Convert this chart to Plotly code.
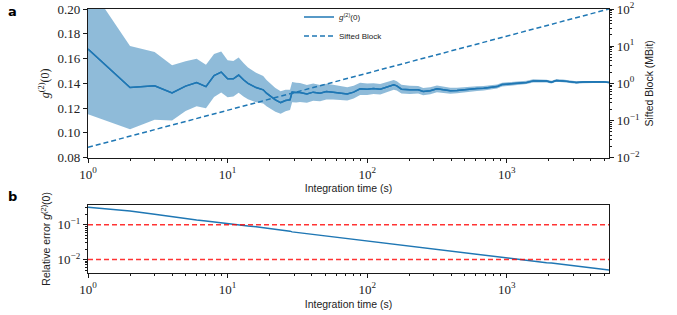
import plotly.graph_objects as go

# ---- data ----
times = [1, 2, 3, 4, 5, 6, 7, 8, 9, 10, 11, 12, 13, 14, 16, 18, 19, 20, 22, 24, 26, 28, 29, 31, 33,
         37, 41, 46, 51, 57, 64, 72, 80, 89, 100, 111, 124, 139, 155, 163, 176, 202, 232, 252, 283,
         316, 353, 394, 440, 490, 548, 612, 683, 763, 852, 925, 1055, 1245, 1387, 1547, 1727, 1927,
         2088, 2264, 2526, 2820, 3148, 3510, 3920, 4375, 4880, 5400]
g2 = [0.1677, 0.1366, 0.1380, 0.1323, 0.1378, 0.1407, 0.1374, 0.1463, 0.1491, 0.1437, 0.1437, 0.1467,
      0.1429, 0.1400, 0.1366, 0.1348, 0.1321, 0.1300, 0.1267, 0.1245, 0.1261, 0.1267, 0.1329, 0.1326,
      0.1326, 0.1315, 0.1329, 0.1321, 0.1334, 0.1329, 0.1321, 0.1315, 0.1329, 0.1356, 0.1353, 0.1358,
      0.1353, 0.1370, 0.1388, 0.1380, 0.1353, 0.1348, 0.1348, 0.1334, 0.1340, 0.1356, 0.1348, 0.1340,
      0.1342, 0.1348, 0.1356, 0.1358, 0.1361, 0.1366, 0.1374, 0.1390, 0.1394, 0.1402, 0.1407, 0.1420,
      0.1420, 0.1418, 0.1410, 0.1423, 0.1420, 0.1415, 0.1407, 0.1410, 0.1412, 0.1412, 0.1412, 0.1407]
rel_err = [0.314, 0.246, 0.198, 0.169, 0.146, 0.136, 0.128, 0.119, 0.111, 0.104, 0.100, 0.097,
           0.094, 0.091, 0.087, 0.082, 0.080, 0.079, 0.076, 0.073, 0.069, 0.065, 0.062, 0.060,
           0.058, 0.055, 0.052, 0.050, 0.0475, 0.045, 0.043, 0.041, 0.039, 0.0365, 0.034, 0.032,
           0.031, 0.0295, 0.028, 0.0273, 0.0262, 0.0245, 0.0228, 0.0219, 0.0207, 0.0198, 0.0187,
           0.0177, 0.0167, 0.0158, 0.0150, 0.0142, 0.0135, 0.0127, 0.0120, 0.0114, 0.0107, 0.0098,
           0.0093, 0.0089, 0.0085, 0.0081, 0.0079, 0.0076, 0.0072, 0.0069, 0.0066, 0.0063, 0.0060,
           0.0056, 0.0053, 0.0050]
sift_times = [1, 5400]
sift_mbit = [0.019, 100]
thresholds = [0.1, 0.01]

g2_low = [g * (1 - r) for g, r in zip(g2, rel_err)]
g2_high = [g * (1 + r) for g, r in zip(g2, rel_err)]

BLUE = "#1f77b4"
SERIF = "Liberation Serif"
SANS = "Liberation Sans"
AX = "#1a1a1a"
TXT = "#222"


def sup(e):
    return "10<sup>%s</sup>" % (str(e).replace("-", "\u2212"))


def minor_vals(lo_exp, hi_exp):
    vals = []
    for e in range(lo_exp, hi_exp + 1):
        for m in range(2, 10):
            vals.append(m * 10.0 ** e)
    return vals


fig = go.Figure()
fig.add_trace(go.Scatter(x=times, y=g2, mode="lines", line=dict(color=BLUE, width=1.5),
                         name="<i>g</i><sup>(2)</sup>(0)", xaxis="x", yaxis="y", legendrank=1))
fig.add_trace(go.Scatter(x=sift_times, y=sift_mbit, mode="lines",
                         line=dict(color=BLUE, width=1.5, dash="5px,3px"),
                         name="Sifted Block", xaxis="x", yaxis="y3", legendrank=2))
fig.add_trace(go.Scatter(x=times, y=g2_low, mode="lines", line=dict(width=0), showlegend=False,
                         hoverinfo="skip", xaxis="x", yaxis="y"))
fig.add_trace(go.Scatter(x=times, y=g2_high, mode="lines", line=dict(width=0), fill="tonexty",
                         fillcolor="rgba(31,119,180,0.5)", showlegend=False, hoverinfo="skip",
                         xaxis="x", yaxis="y"))
fig.add_trace(go.Scatter(x=times, y=g2, mode="lines", line=dict(color=BLUE, width=1.5),
                         showlegend=False, xaxis="x", yaxis="y"))
fig.add_trace(go.Scatter(x=times, y=rel_err, mode="lines", line=dict(color=BLUE, width=1.5),
                         showlegend=False, xaxis="x2", yaxis="y2"))
for th in thresholds:
    fig.add_trace(go.Scatter(x=[times[0], times[-1]], y=[th, th], mode="lines",
                             line=dict(color="rgba(255,0,0,0.8)", width=1.5, dash="5px,3px"),
                             showlegend=False, xaxis="x2", yaxis="y2"))

xr = [0, 3.7324]
xticks = [1, 10, 100, 1000]
xtext = [sup(i) for i in range(4)]
common_x = dict(type="log", range=xr, tickvals=xticks, ticktext=xtext, ticks="outside",
                ticklen=4, tickwidth=1, tickcolor=AX, showline=True, linecolor=AX, linewidth=1.4,
                mirror=True, showgrid=False, zeroline=False, automargin=False,
                tickfont=dict(family=SERIF, size=13, color=TXT),
                minor=dict(ticks="outside", ticklen=2, tickcolor=AX, showgrid=False,
                           tickmode="array", tickvals=minor_vals(0, 3)),
                title=dict(text="Integration time (s)", font=dict(family=SANS, size=10.5, color=TXT),
                           standoff=4))

fig.update_layout(
    width=677, height=315,
    margin=dict(l=88, r=68, t=9, b=42, autoexpand=False),
    paper_bgcolor="white", plot_bgcolor="white",
    showlegend=True, hovermode=False,
    legend=dict(x=0.405, y=1.025, xanchor="left", yanchor="top", bgcolor="rgba(0,0,0,0)",
                font=dict(family=SANS, size=8, color=TXT), tracegroupgap=0,
                traceorder="normal", itemwidth=30),
    xaxis=dict(domain=[0, 1], anchor="y", **common_x),
    yaxis=dict(domain=[0.4367, 1], range=[0.08, 0.20], tickvals=[0.08, 0.10, 0.12, 0.14, 0.16, 0.18, 0.20],
               ticktext=["0.08", "0.10", "0.12", "0.14", "0.16", "0.18", "0.20"],
               ticks="outside", ticklen=4, tickcolor=AX, showline=True, linecolor=AX, linewidth=1.4,
               mirror=True, showgrid=False, zeroline=False, automargin=False,
               tickfont=dict(family=SERIF, size=13, color=TXT),
               title=dict(text="<i>g</i><sup>(2)</sup>(0)", font=dict(family=SERIF, size=12, color=TXT),
                          standoff=5)),
    yaxis3=dict(overlaying="y", side="right", anchor="x", type="log", range=[-2, 2],
                tickvals=[0.01, 0.1, 1, 10, 100], ticktext=[sup(e) for e in [-2, -1, 0, 1, 2]],
                ticks="outside", ticklen=4, tickcolor=AX, showline=True, linecolor=AX, linewidth=1.4,
                showgrid=False, zeroline=False, automargin=False,
                minor=dict(ticks="outside", ticklen=2, tickcolor=AX, showgrid=False,
                           tickmode="array", tickvals=minor_vals(-2, 1)),
                tickfont=dict(family=SERIF, size=13, color=TXT),
                title=dict(text="Sifted Block (MBit)", font=dict(family=SANS, size=10.5, color=TXT),
                           standoff=6)),
    xaxis2=dict(domain=[0, 1], anchor="y2", **common_x),
    yaxis2=dict(domain=[0, 0.2587], type="log", range=[-2.386, -0.429],
                tickvals=[0.01, 0.1], ticktext=[sup(-2), sup(-1)],
                ticks="outside", ticklen=4, tickcolor=AX, showline=True, linecolor=AX, linewidth=1.4,
                mirror=True, showgrid=False, zeroline=False, automargin=False,
                minor=dict(ticks="outside", ticklen=2, tickcolor=AX, showgrid=False,
                           tickmode="array", tickvals=minor_vals(-3, -1)),
                tickfont=dict(family=SERIF, size=13, color=TXT),
                title=dict(text="Relative error <i>g</i><sup>(2)</sup>(0)",
                           font=dict(family=SANS, size=10.5, color=TXT), standoff=4)),
    annotations=[
        dict(text="<b>a</b>", x=-0.145, y=0.99, xref="paper", yref="paper", showarrow=False,
             font=dict(family="DejaVu Sans", size=13, color="black"), xanchor="center", yanchor="middle"),
        dict(text="<b>b</b>", x=-0.145, y=0.29, xref="paper", yref="paper", showarrow=False,
             font=dict(family="DejaVu Sans", size=13, color="black"), xanchor="center", yanchor="middle"),
    ],
)

fig.write_html("out.html", config={"displayModeBar": False},
               post_script="document.body.style.margin='0';document.body.style.overflow='hidden';")
